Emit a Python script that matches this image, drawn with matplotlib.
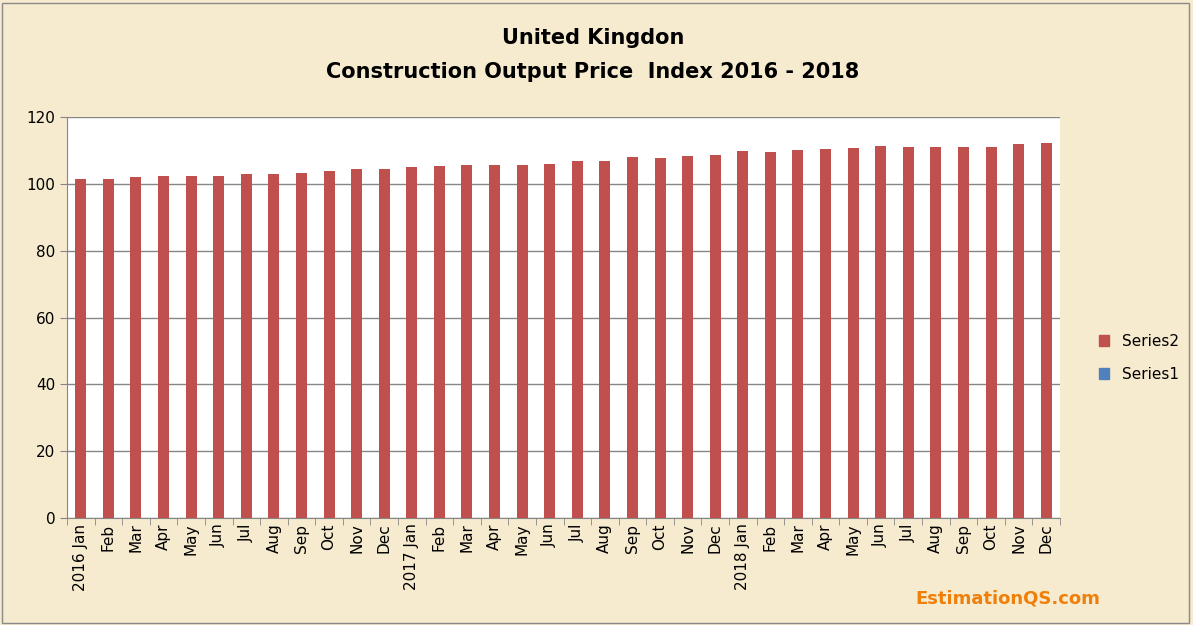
import matplotlib.pyplot as plt
import numpy as np
from matplotlib.patches import Patch

months = ['Jan', 'Feb', 'Mar', 'Apr', 'May', 'Jun', 'Jul', 'Aug', 'Sep', 'Oct', 'Nov', 'Dec']
labels = []
for yr in ['2016', '2017', '2018']:
    for m in months:
        labels.append(yr + ' ' + m if m == 'Jan' else m)

series2 = [101.3, 101.3, 101.9, 102.2, 102.2, 102.2, 102.8, 102.8, 103.1, 103.7, 104.3, 104.3,
           104.9, 105.2, 105.5, 105.5, 105.5, 105.8, 106.7, 106.7, 107.9, 107.6, 108.2, 108.5,
           109.7, 109.4, 110.0, 110.3, 110.6, 111.2, 110.9, 110.9, 110.9, 110.9, 111.8, 112.1]

fig = plt.figure(figsize=(11.93, 6.25), dpi=100, facecolor='#f7ebcf')
fig.patches.append(plt.Rectangle((0.002, 0.003), 0.995, 0.993, transform=fig.transFigure,
                                 fill=False, edgecolor='#8a8a8a', linewidth=1))
ax = fig.add_axes([67/1193, 1 - 518/625, (1060 - 67)/1193, (518 - 117)/625])
ax.set_facecolor('white')
x = np.arange(len(series2))
ax.bar(x, series2, width=0.4, color='#c0504d', zorder=3)
ax.set_xlim(-0.5, len(series2) - 0.5)
ax.set_ylim(0, 120)
ax.set_yticks(range(0, 121, 20))
ax.grid(axis='y', color='#868686', linewidth=1, zorder=0)
ax.set_xticks(x)
ax.set_xticklabels(labels, rotation=90, fontsize=11)
ax.set_xticks(np.arange(-0.5, len(series2), 1), minor=True)
ax.tick_params(axis='x', which='major', length=0, pad=4)
ax.tick_params(axis='x', which='minor', length=5, color='#868686')
ax.tick_params(axis='y', labelsize=11, length=5, color='#868686')
for s in ['top', 'right']:
    ax.spines[s].set_visible(False)
for s in ['left', 'bottom']:
    ax.spines[s].set_color('#868686')

fig.text(0.497, 0.94, 'United Kingdon', ha='center', va='center', fontsize=15, fontweight='bold')
fig.text(0.497, 0.885, 'Construction Output Price  Index 2016 - 2018', ha='center', va='center',
         fontsize=15, fontweight='bold')

handles = [Patch(color='#c0504d', label='Series2'), Patch(color='#4f81bd', label='Series1')]
fig.legend(handles=handles, loc='center left', bbox_to_anchor=(1085/1193, 1 - 358/625),
           frameon=False, fontsize=11, handlelength=0.7, handleheight=0.7, labelspacing=1.2)

fig.text(1100/1193, 1 - 598/625, 'EstimationQS.com', ha='right', va='center', fontsize=13,
         fontweight='bold', color='#f07f09')

fig.savefig('out.png', dpi=100, facecolor=fig.get_facecolor())
